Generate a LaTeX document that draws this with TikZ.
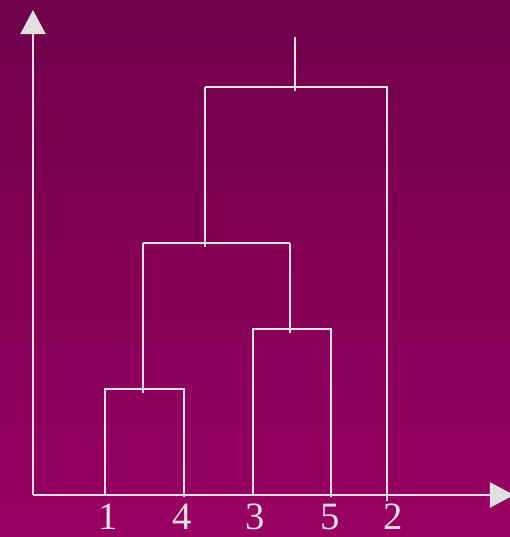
\documentclass[tikz,border=0pt]{standalone}
\usepackage{fontspec}
\setmainfont{Liberation Serif}
\usetikzlibrary{arrows.meta}
\definecolor{bgtop}{HTML}{70004A}
\definecolor{bgbot}{HTML}{980062}
\definecolor{linec}{HTML}{E0E0E0}
\tikzset{
  branch/.style={draw=linec, line width=1.2pt},
  stem/.style={draw=linec, line width=1.2pt, shorten <=-0.8mm},
  axis/.style={draw=linec, line width=1.2pt,
               -{Triangle[length=4.8mm, width=5mm, fill=linec]}},
  leaf/.style={text=linec, font=\fontsize{22}{22}\selectfont, inner sep=0pt},
}

\begin{document}
\begin{tikzpicture}[x=0.2mm, y=-0.2mm]
  \shade[top color=bgtop, bottom color=bgbot] (0,0) rectangle (510,537);
  \useasboundingbox (0,0) rectangle (510,537);
  % axes
  \coordinate (o) at (33,495);
  \coordinate (ytip) at (33,10);
  \coordinate (xtip) at (514,495);
  \draw[axis] (o) -- (ytip);
  \draw[axis] (o) -- (xtip);
  % leaves on the axis
  \coordinate (l1) at (105,495);
  \coordinate (l4) at (184,497);
  \coordinate (l3) at (253,495);
  \coordinate (l5) at (331,497);
  \coordinate (l2) at (387,501);
  % merges
  \coordinate (m14) at (143,389);
  \coordinate (m35) at (290,329);
  \coordinate (m1435) at (205,243);
  \coordinate (root) at (295,87);
  \coordinate (top) at (295,37);
  % bars
  \draw[branch] (l1) |- (l4 |- m14) -- (l4);
  \draw[branch] (l3) |- (l5 |- m35) -- (l5);
  \draw[branch] (m14 |- m1435) -- (m35 |- m1435);
  \draw[branch] (m1435 |- root) -- (l2 |- root) -- (l2);
  % stems
  \draw[stem] (m14) -- (m14 |- m1435);
  \draw[stem] (m35) -- (m35 |- m1435);
  \draw[stem] (m1435) -- (m1435 |- root);
  \draw[stem] (root) -- (top);
  % labels
  \foreach \k/\x in {1/108, 4/182, 3/255, 5/330, 2/393}
    \node[leaf, anchor=north] (lab\k) at (\x,504) {\k};
\end{tikzpicture}
\end{document}
